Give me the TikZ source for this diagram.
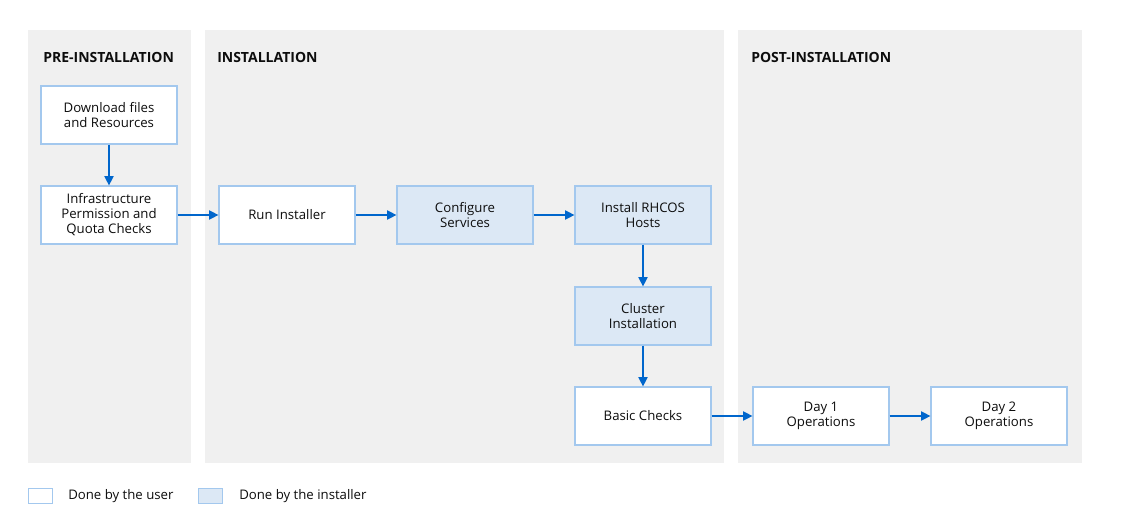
\documentclass[tikz,border=0pt]{standalone}
\usepackage{fontspec}
\setmainfont{Open Sans}
\usetikzlibrary{arrows.meta,positioning}
\definecolor{panelgray}{HTML}{F0F0F0}
\definecolor{boxline}{HTML}{A3C8EE}
\definecolor{boxblue}{HTML}{DCE8F5}
\definecolor{arrowblue}{HTML}{0066CC}
\tikzset{
  userbox/.style={rectangle,draw=boxline,line width=0.9pt,fill=white,minimum width=102pt,minimum height=43.5pt,align=center,font=\fontsize{9.9}{11.3}\selectfont,text=black!95},
  instbox/.style={userbox,fill=boxblue},
  flow/.style={-{Triangle[length=7pt,width=7pt]},draw=arrowblue,line width=0.9pt},
  phase/.style={anchor=west,inner sep=0pt,font=\bfseries\fontsize{10.5}{12}\selectfont,text=black!95},
  keytext/.style={anchor=west,inner sep=0pt,font=\fontsize{9.9}{11}\selectfont,text=black!95},
  panel/.style={fill=panelgray,draw=none}
}
\begin{document}
\begin{tikzpicture}[x=0.75pt,y=-0.75pt]
\useasboundingbox (0,0) rectangle (1128,521);
% \draw[help lines] (0,0) grid (1128,521);
\fill[white] (0,0) rectangle (1128,521);
\path[panel] (28,30) rectangle (191,463);
\path[panel] (205,30) rectangle (724,463);
\path[panel] (738,30) rectangle (1082,463);
%
\node (pre) [phase] at (43,57) {PRE-INSTALLATION};
\node (inst) [phase] at (217,57) {INSTALLATION};
\node (post) [phase] at (751,57) {POST-INSTALLATION};
%
\node (dl) [userbox] at (109,115) {Download files\\and Resources};
\node (infra) [userbox] at (109,215) {Infrastructure\\Permission and\\Quota Checks};
\node (run) [userbox] at (287,215) {Run Installer};
\node (conf) [instbox] at (465,215) {Configure\\Services};
\node (rhcos) [instbox] at (643,215) {Install RHCOS\\Hosts};
\node (cluster) [instbox] at (643,316) {Cluster\\Installation};
\node (basic) [userbox] at (643,416) {Basic Checks};
\node (day1) [userbox] at (821,416) {Day 1\\Operations};
\node (day2) [userbox] at (999,416) {Day 2\\Operations};
%
\draw[flow] (dl) -- (infra);
\draw[flow] (infra) -- (run);
\draw[flow] (run) -- (conf);
\draw[flow] (conf) -- (rhcos);
\draw[flow] (rhcos) -- (cluster);
\draw[flow] (cluster) -- (basic);
\draw[flow] (basic) -- (day1);
\draw[flow] (day1) -- (day2);
%
\node (keyuser) [userbox,minimum width=18pt,minimum height=11.5pt] at (40.5,496) {};
\node (keyuserlbl) [keytext] at (68,496) {Done by the user};
\node (keyinst) [instbox,minimum width=18pt,minimum height=11.5pt] at (210.5,496) {};
\node (keyinstlbl) [keytext] at (239,496) {Done by the installer};
\end{tikzpicture}
\end{document}
